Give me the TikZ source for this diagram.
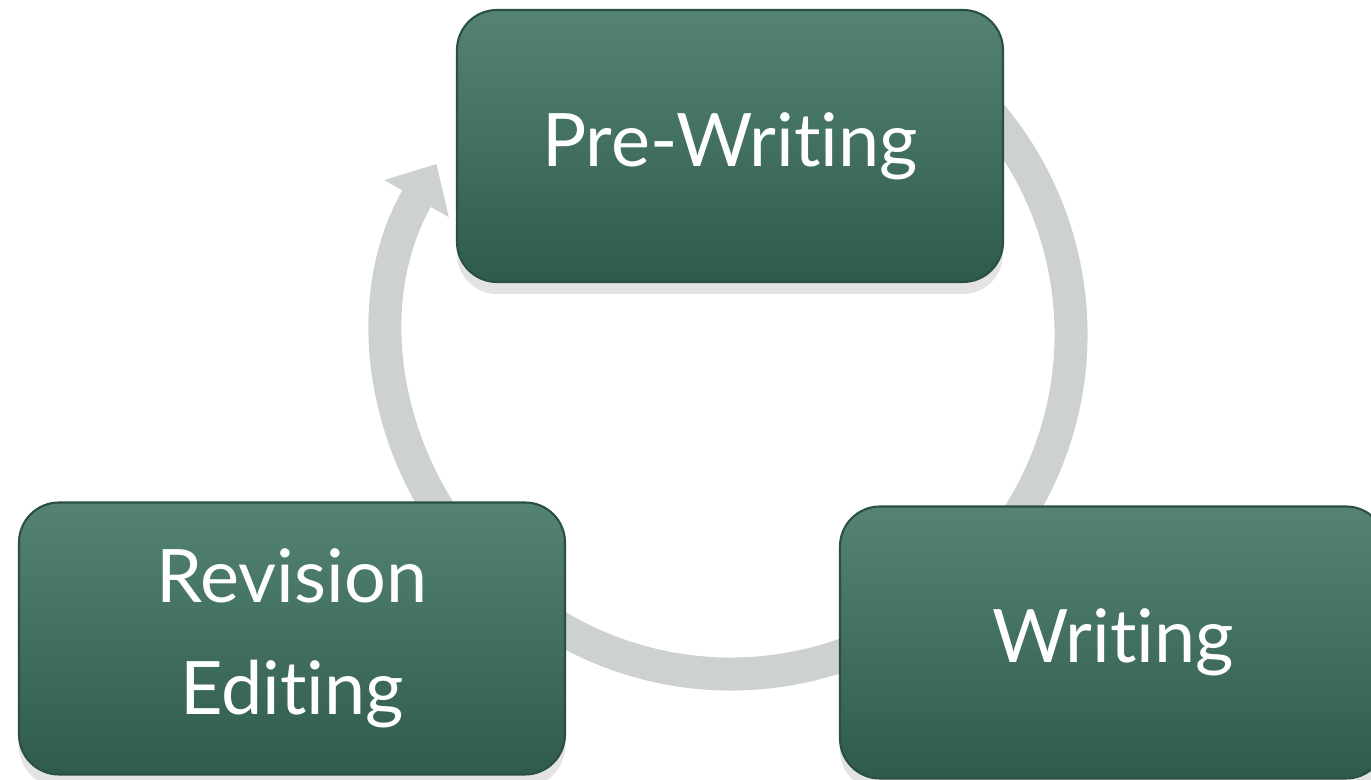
\documentclass[tikz,border=0pt]{standalone}
\usepackage{fontspec}
\setmainfont{Lato}[Ligatures=NoCommon]
\usetikzlibrary{positioning,arrows.meta,shadows}
\definecolor{stagetop}{HTML}{548373}
\definecolor{stagebottom}{HTML}{2F5B4D}
\definecolor{stageedge}{HTML}{2A4F43}
\definecolor{ringgray}{HTML}{CDD1D0}

\begin{document}
\begin{tikzpicture}[
    stage/.style={rounded corners=4mm, minimum width=5.46cm, minimum height=2.72cm,
      top color=stagetop, bottom color=stagebottom, draw=stageedge, line width=0.6pt,
      text=white, font=\fontsize{21}{32}\selectfont, align=center,
      drop shadow={opacity=0.22, shadow xshift=0pt, shadow yshift=-1.2mm}},
    loopring/.style={ringgray, line width=3.3mm, -{Triangle[width=7.2mm,length=4mm]}}]
  \useasboundingbox (0,0) rectangle (13.71,7.80);
  \coordinate (hub) at (7.31,4.46);
  % gray ring behind the three stages
  \draw[loopring] ([shift={(60:3.40)}]hub) arc[start angle=60, end angle=-210, radius=3.40];
  \node[stage] (pre) at (7.30,6.34) {Pre-Writing};
  \node[stage] (writing) at (11.13,1.375) {Writing};
  \node[stage] (revision) at (2.92,1.415) {Revision\\Editing};
\end{tikzpicture}
\end{document}
